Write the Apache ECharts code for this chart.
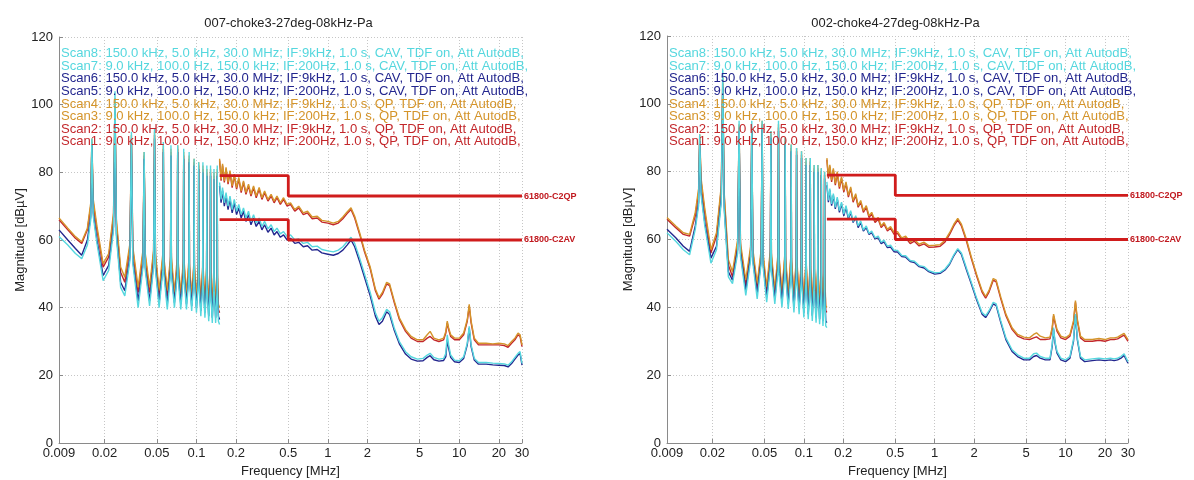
<!DOCTYPE html>
<html><head><meta charset="utf-8">
<script src="https://cdn.jsdelivr.net/npm/echarts@6/dist/echarts.min.js"></script>
<style>html,body{margin:0;padding:0;background:#fff}#c{width:1194px;height:480px}</style>
</head><body><div id="c"></div>
<script>
// ---------- data ----------
const plotTitles = ['007-choke3-27deg-08kHz-Pa', '002-choke4-27deg-08kHz-Pa'];
const xTicks = [0.009, 0.02, 0.05, 0.1, 0.2, 0.5, 1, 2, 5, 10, 20, 30];
const legendLines = [
  ['Scan8', ': 150.0 kHz, 5.0 kHz, 30.0 MHz; IF:9kHz, 1.0 s, CAV, TDF on, Att AutodB,'],
  ['Scan7', ': 9.0 kHz, 100.0 Hz, 150.0 kHz; IF:200Hz, 1.0 s, CAV, TDF on, Att AutodB,'],
  ['Scan6', ': 150.0 kHz, 5.0 kHz, 30.0 MHz; IF:9kHz, 1.0 s, CAV, TDF on, Att AutodB,'],
  ['Scan5', ': 9.0 kHz, 100.0 Hz, 150.0 kHz; IF:200Hz, 1.0 s, CAV, TDF on, Att AutodB,'],
  ['Scan4', ': 150.0 kHz, 5.0 kHz, 30.0 MHz; IF:9kHz, 1.0 s, QP, TDF on, Att AutodB,'],
  ['Scan3', ': 9.0 kHz, 100.0 Hz, 150.0 kHz; IF:200Hz, 1.0 s, QP, TDF on, Att AutodB,'],
  ['Scan2', ': 150.0 kHz, 5.0 kHz, 30.0 MHz; IF:9kHz, 1.0 s, QP, TDF on, Att AutodB,'],
  ['Scan1', ': 9.0 kHz, 100.0 Hz, 150.0 kHz; IF:200Hz, 1.0 s, QP, TDF on, Att AutodB,']
];

// 9 kHz - 150 kHz scans (Scan1/3/5/7), frequency in MHz
const lowFreq = [0.009, 0.0105, 0.012, 0.0134, 0.0148, 0.0157, 0.016, 0.0164, 0.0175, 0.0195,
  0.0215, 0.0234, 0.024, 0.0246, 0.0265, 0.0285, 0.0312, 0.032, 0.0328, 0.036,
  0.0392, 0.040, 0.0408, 0.044, 0.0472, 0.048, 0.0488, 0.052,
  0.0555, 0.056, 0.0565, 0.060,
  0.0635, 0.064, 0.0645, 0.068,
  0.0715, 0.072, 0.0725, 0.076,
  0.0795, 0.080, 0.0805, 0.084,
  0.0875, 0.088, 0.0885, 0.092,
  0.0955, 0.096, 0.0965, 0.100,
  0.1035, 0.104, 0.1045, 0.108,
  0.1115, 0.112, 0.1125, 0.116,
  0.1195, 0.120, 0.1205, 0.124,
  0.1275, 0.128, 0.1285, 0.132,
  0.1355, 0.136, 0.1365, 0.140,
  0.1435, 0.144, 0.1445, 0.147, 0.1499];
// 150 kHz - 30 MHz scans (Scan2/4/6/8)
const highFreq = [0.15, 0.154, 0.158, 0.163, 0.168, 0.174, 0.18, 0.187, 0.194, 0.202,
  0.21, 0.219, 0.228, 0.238, 0.249, 0.26, 0.272, 0.285, 0.3, 0.315,
  0.33, 0.35, 0.37, 0.39, 0.41, 0.435, 0.46, 0.49, 0.52, 0.56,
  0.6, 0.65, 0.7, 0.76, 0.83, 0.9, 1.0, 1.1, 1.2, 1.3,
  1.4, 1.5, 1.6, 1.75, 1.9, 2.1, 2.3, 2.45, 2.6, 2.8,
  2.95, 3.2, 3.5, 3.9, 4.3, 4.8, 5.3, 5.7, 6.0, 6.4,
  7.0, 7.6, 7.9, 8.1, 8.3, 8.6, 9.2, 10.0, 10.8, 11.5,
  11.9, 12.3, 13.0, 14.0, 16.0, 18.0, 20.0, 22.0, 23.5, 25.0,
  26.5, 28.0, 29.0, 30.0];

// ---- left plot (007-choke3) ----
const L_scan1 = [66, 63, 60.5, 59, 63, 70, 89, 71, 63, 52, 55, 67, 100, 65, 50.5, 47.5, 58, 90, 57, 44.5, 56, 85, 55, 44.5, 56, 91, 55, 43.5,
  54.5, 87, 54, 43.5, 54, 86, 53.5, 43, 53.5, 87, 53, 42.5, 53, 85, 52.5, 42.5, 52.5, 84, 52, 42, 52, 83, 51.5, 41.5,
  51.5, 82, 51, 40.5, 51, 81, 50.5, 40, 50.5, 80, 50, 39.5, 50, 80, 49.5, 39.5, 49.5, 79, 49, 39, 49.5, 80, 49, 39.5, 38.5];
const L_scan3 = [66.5, 63.5, 61, 59.5, 63.5, 71, 90, 72, 64, 53, 56, 68, 102, 66, 52, 49, 59, 91, 58, 46, 57, 86, 56, 46, 57, 92, 56, 45,
  56, 88, 55, 45, 55, 87, 55, 44.5, 55, 88, 54, 44, 54, 86, 54, 44, 54, 85, 53, 43.5, 53, 84, 53, 43,
  53, 83, 52, 42, 52, 82, 52, 41.5, 52, 81, 51, 41, 51, 81, 51, 41, 51, 80, 50, 40.5, 51, 81, 50, 41, 40];
const L_scan5 = [63, 60, 57.5, 55.5, 60, 67, 88, 68, 60, 49.5, 52.5, 64, 98, 62, 47.5, 45, 55, 89, 54, 42, 53, 84, 52, 42, 53, 90, 52, 41.5,
  52, 86, 51.5, 41, 51.5, 85, 51, 41.5, 51, 86, 50.5, 41, 50.5, 84, 50, 41, 50, 83, 49.5, 40.5, 49.5, 82, 49, 40,
  49, 81, 48.5, 39, 48.5, 80, 48, 38.5, 48, 79, 47.5, 37.5, 47.5, 79, 47, 37, 47, 78, 46.5, 37, 46.5, 79, 46, 37.5, 36.5];
const L_scan7 = [61, 58.5, 56, 54.5, 58.5, 66, 90, 67, 59, 48, 51, 63, 104, 61, 46, 43.5, 54, 92, 53, 40, 52, 86, 51, 40.5, 52, 93, 51, 40,
  51, 89, 50, 39.5, 50, 88, 50, 40, 50, 88, 49, 39.5, 49, 87, 49, 39.5, 49, 86, 48, 39, 48, 84, 48, 38.5,
  48, 83, 47, 37.5, 47, 83, 47, 37, 46, 82, 46, 36, 46, 82, 45, 35.5, 45, 81, 45, 35.5, 45, 82, 45, 36, 35];
const L_scan2 = [83.5, 77.5, 82, 77, 81, 76.5, 80, 75.5, 79, 75, 78, 74, 77, 73.5, 76, 73, 75.5, 72.5, 75, 72, 74, 71.5, 73, 71, 72.5, 70.5, 72, 70, 70.5, 68.5, 69.5, 67.5, 68, 66.3, 66.5, 65.3, 65, 64.5, 65, 66.3, 67.8, 69, 66.5, 61.5, 56.5, 51.5, 45, 42.5, 44, 47, 46.5, 41.5, 36.5, 33, 31, 30, 30, 31, 31.5, 30.5, 30, 30.5, 32.5, 35.5, 33.5, 31.5, 30.5, 30.5, 32, 36, 40.5, 35.5, 30.5, 29, 29, 29, 29, 28.8, 28.3, 29.5, 30.5, 32, 31.5, 28.5];
const L_scan4 = [84, 78, 82.5, 77.5, 81.5, 77, 80.5, 76, 79.5, 75.5, 78.5, 74.5, 77.5, 74, 76.5, 73.5, 76, 73, 75.5, 72.5, 74.5, 72, 73.5, 71.5, 73, 71, 72.5, 70.5, 71, 69, 70, 68, 68.5, 66.8, 67, 65.8, 65.5, 65, 65.5, 66.8, 68.3, 69.5, 67, 62, 57, 52, 45.5, 43, 44.5, 47.5, 47, 42, 37, 33.5, 31.5, 30.5, 30.5, 32, 33, 31, 30.5, 31, 33, 36, 34, 32, 31, 31, 32.5, 36.5, 41, 36, 31, 29.5, 29.5, 29.3, 29.5, 29.3, 28.8, 30, 31, 32.5, 32, 29];
const L_scan6 = [76, 71, 74.5, 70, 73, 69, 72, 68, 71, 67.5, 69.5, 66.5, 68.5, 65.5, 67.5, 64.5, 66.5, 64, 65.5, 63, 64.5, 62.3, 63.5, 61.5, 62.5, 60.8, 61.5, 60, 60.5, 59, 59.3, 58, 58.3, 57, 57.2, 56.2, 55.8, 55.5, 56, 57, 58.5, 60, 58, 53.5, 49, 43.5, 37.5, 35, 36, 38.8, 38, 33.3, 29.3, 26.3, 24.8, 24.2, 24.3, 25.3, 25.8, 24.6, 24.2, 24.4, 25.5, 30.5, 28, 25.3, 24, 23.8, 25, 29, 34, 28.5, 24.5, 23.3, 23.3, 23.1, 23, 22.9, 22.5, 23.5, 24.8, 26, 26.5, 23];
const L_scan8 = [77, 72, 75.5, 71, 74, 70, 73, 69, 72, 68.5, 70.5, 67.5, 69.5, 66.5, 68.5, 65.5, 67.5, 65, 66.5, 64, 65.5, 63.3, 64.5, 62.5, 63.5, 61.8, 62.5, 61, 61.5, 60, 60.3, 59, 59.3, 58, 58.2, 57.2, 56.8, 56.5, 57, 58, 59.5, 60.8, 59, 54.5, 50, 44.5, 38.5, 36, 37, 39.5, 38.8, 34, 30, 27, 25.5, 24.8, 25, 26, 26.5, 25.3, 24.8, 25, 26.5, 32, 29, 26, 24.5, 24.3, 25.5, 29.5, 34.5, 29, 25, 23.8, 23.8, 23.6, 23.5, 23.4, 23, 24, 25.3, 26.5, 27, 23.5];

// ---- right plot (002-choke4) ----
const R_scan1 = [66, 63.5, 61.5, 61, 67, 74, 90, 77, 68, 56, 61, 75, 106, 73, 52.5, 49, 59, 93, 58, 46.5, 57, 92, 56, 45.5, 56, 94, 55, 44.5,
  56, 91, 55, 43.5, 55, 93, 54.5, 43, 54.5, 89, 54, 42.5, 54, 87, 53.5, 42, 53.5, 86, 53, 41.5, 53, 85, 52, 40.5,
  52, 83, 51.5, 40, 51.5, 83, 51, 39.5, 51, 81, 50.5, 39, 50.5, 81, 50, 39, 50, 80, 49.5, 38.5, 49.5, 79, 49, 39, 38.5];
const R_scan3 = [66.5, 64, 62, 61.5, 68, 75, 91, 78, 69, 57, 62, 76, 108, 74, 54, 50.5, 60, 94, 59, 48, 58, 93, 57, 47, 57, 95, 56, 46,
  57, 92, 56, 45, 56, 94, 55.5, 44.5, 55.5, 90, 55, 44, 55, 88, 54.5, 43.5, 54.5, 87, 54, 43, 54, 86, 53, 42,
  53, 84, 52.5, 41.5, 52.5, 84, 52, 41, 52, 82, 51.5, 40.5, 51.5, 82, 51, 40.5, 51, 81, 50.5, 40, 50.5, 80, 50, 40.5, 40];
const R_scan5 = [63, 60.5, 58, 56.5, 64, 71, 89, 74, 65, 54.5, 58, 72, 105, 70, 50.5, 48, 57, 92, 56, 45, 55, 92, 54, 44, 54, 93, 53, 43,
  53, 90, 52.5, 42.5, 52.5, 92, 52, 41.5, 52, 88, 51, 41, 51, 86, 50.5, 40, 50.5, 85, 50, 39.5, 50, 84, 49, 38.5,
  49, 82, 48.5, 38, 48.5, 82, 48, 37.5, 48, 80, 47, 37, 47, 80, 46.5, 36.5, 46.5, 79, 46, 36, 46, 78, 45.5, 36, 35.5];
const R_scan7 = [62, 59.5, 57, 55.5, 63, 70, 91, 73, 64, 53, 57, 71, 110, 69, 49, 47, 56, 95, 55, 43.5, 54, 95, 53, 42.5, 53, 95, 52, 41.5,
  52, 92, 51, 41, 51, 95, 50, 40, 50, 90, 49.5, 39.5, 49.5, 88, 49, 38.5, 49, 87, 48, 38, 48, 86, 47, 37,
  47, 84, 46.5, 36.5, 46.5, 84, 46, 36, 46, 82, 45, 35.5, 45, 82, 44.5, 35, 44.5, 81, 44, 34.5, 44, 80, 43.5, 34.5, 34];
const R_scan2 = [83.5, 78, 81.5, 77, 80.5, 76, 79.5, 75, 78, 74, 76.5, 72.5, 75, 71, 73, 69.5, 71, 68, 69.5, 66.5, 67.5, 65, 66, 63.5, 64.5, 62.5, 63.3, 61.5, 61.8, 60, 60.5, 58.8, 59.5, 58.1, 58.7, 57.7, 57.8, 58, 59.3, 61.5, 64, 65.7, 64, 59.5, 54.5, 49, 44.5, 42.7, 44.5, 48, 47.5, 42.5, 37.5, 33.5, 31.5, 30.7, 30.5, 31, 31.3, 30.5, 30.5, 30.7, 33.5, 37.5, 35.5, 33, 31, 30.5, 31.5, 35.5, 41.5, 36, 31, 30, 30, 30.3, 30, 30.5, 30.5, 30.7, 31.3, 31.8, 32, 30];
const R_scan4 = [84, 78.5, 82, 77.5, 81, 76.5, 80, 75.5, 78.5, 74.5, 77, 73, 75.5, 71.5, 73.5, 70, 71.5, 68.5, 70, 67, 68, 65.5, 66.5, 64, 65, 63, 63.8, 62, 62.3, 60.5, 61, 59.3, 60, 58.6, 59.2, 58.2, 58.3, 58.5, 59.8, 62, 64.5, 66.2, 64.5, 60, 55, 49.5, 45, 43.2, 45, 48.5, 48, 43, 38, 34, 32, 31.2, 31, 32, 32.5, 31.5, 31, 31.2, 34, 38, 36, 33.5, 31.5, 31, 32, 36, 42, 36.5, 31.5, 30.5, 30.5, 30.8, 30.5, 31, 31, 31.2, 31.8, 32.3, 32.5, 30.5];
const R_scan6 = [76, 71, 74.5, 70, 73, 69, 72, 68, 70.5, 67, 69.5, 66, 68, 65, 66.5, 63.5, 65, 62.5, 63.5, 61.5, 62, 60.2, 60.5, 58.8, 59.3, 57.6, 57.8, 56.4, 56.3, 55, 54.8, 53.5, 53.2, 52, 51.6, 50.5, 49.8, 50, 51, 52.7, 55.2, 57, 55.6, 51, 47, 42, 38, 37, 38.6, 41, 40.5, 35.5, 30.5, 27, 25.5, 24.5, 24.5, 25.5, 25.8, 25, 24.5, 24.5, 28.5, 33.5, 29.5, 26.5, 24.5, 24, 25, 30, 37.5, 30.5, 25, 24, 24.3, 24.5, 24.3, 24.5, 24.3, 24.5, 25, 25.8, 26, 23.5];
const R_scan8 = [77, 71.5, 75, 70.5, 73.5, 69.5, 72.5, 68.5, 71, 67.5, 70, 66.5, 68.5, 65.3, 67, 64, 65.5, 62.8, 64, 61.8, 62.5, 60.5, 61, 59.2, 59.8, 58, 58.3, 56.8, 56.8, 55.3, 55.2, 53.8, 53.6, 52.3, 52, 50.8, 50.2, 50.3, 51.3, 53, 55.5, 57.3, 56, 51.5, 47.5, 42.5, 38.5, 37.5, 39, 41.5, 41, 36, 31, 27.5, 26, 25, 25, 26.3, 26.5, 25.5, 25, 25, 29, 34, 30, 27, 25, 24.5, 25.5, 30.5, 38, 31, 25.5, 24.5, 24.8, 25, 24.8, 25, 24.8, 25, 25.5, 26.3, 26.5, 24];

// limit lines (IEC 61800-3 C2)
const limitFreq = [0.15, 0.5, 0.5, 30];
const qpLimit = [79, 79, 73, 73];
const avLimit = [66, 66, 60, 60];

// ---------- styling ----------
const FONT = '"Liberation Sans", Arial, Helvetica, sans-serif';
const C = { red: '#c3272b', gold: '#d4942a', navy: '#23268e', cyan: '#55d7de', limit: '#d01c1c' };
const scanColor = { Scan1: C.red, Scan2: C.red, Scan3: C.gold, Scan4: C.gold, Scan5: C.navy, Scan6: C.navy, Scan7: C.cyan, Scan8: C.cyan };
const grids = [
  { left: 59, top: 37, width: 463, height: 406, containLabel: false, outerBoundsMode: 'none' },
  { left: 667, top: 36, width: 461, height: 407, containLabel: false, outerBoundsMode: 'none' }
];

function pairs(fr, vals) { return fr.map((f, i) => [f, vals[i]]); }
function fmtTick(v) {
  let best = xTicks[0];
  xTicks.forEach(t => { if (Math.abs(Math.log10(t) - Math.log10(v)) < Math.abs(Math.log10(best) - Math.log10(v))) best = t; });
  return String(best);
}

const plots = [
  { low: [L_scan1, L_scan3, L_scan5, L_scan7], high: [L_scan2, L_scan4, L_scan6, L_scan8] },
  { low: [R_scan1, R_scan3, R_scan5, R_scan7], high: [R_scan2, R_scan4, R_scan6, R_scan8] }
];

const xAxes = [], yAxes = [], series = [], graphics = [];
plots.forEach((p, gi) => {
  xAxes.push({
    type: 'log', logBase: 10, gridIndex: gi, min: 0.009, max: 30,
    name: 'Frequency [MHz]', nameLocation: 'middle', nameGap: 18,
    nameTextStyle: { fontFamily: FONT, fontSize: 13, color: '#222' },
    axisLine: { show: true, onZero: false, lineStyle: { color: '#8a8a8a', width: 1 } },
    axisTick: { show: true, inside: true, length: 4, customValues: xTicks, lineStyle: { color: '#8a8a8a' } },
    axisLabel: { customValues: xTicks, formatter: fmtTick, fontFamily: FONT, fontSize: 13, color: '#222', margin: 4, hideOverlap: false },
    splitLine: { show: true, lineStyle: { color: '#c6c6c6', type: [1, 2], width: 1 } }
  });
  yAxes.push({
    type: 'value', gridIndex: gi, min: 0, max: 120, interval: 20,
    name: 'Magnitude [dBµV]', nameLocation: 'middle', nameGap: 31, nameRotate: 90,
    nameTextStyle: { fontFamily: FONT, fontSize: 13, color: '#222' },
    axisLine: { show: true, lineStyle: { color: '#8a8a8a', width: 1 } },
    axisTick: { show: true, inside: true, length: 4, lineStyle: { color: '#8a8a8a' } },
    axisLabel: { fontFamily: FONT, fontSize: 13, color: '#222', margin: 6 },
    splitLine: { show: true, lineStyle: { color: '#c6c6c6', type: [1, 2], width: 1 } }
  });
  const order = [
    ['Scan1', lowFreq, p.low[0]], ['Scan2', highFreq, p.high[0]],
    ['Scan3', lowFreq, p.low[1]], ['Scan4', highFreq, p.high[1]],
    ['Scan5', lowFreq, p.low[2]], ['Scan6', highFreq, p.high[2]],
    ['Scan7', lowFreq, p.low[3]], ['Scan8', highFreq, p.high[3]]
  ];
  order.forEach(([nm, fr, vals]) => {
    series.push({
      type: 'line', name: nm, xAxisIndex: gi, yAxisIndex: gi,
      data: pairs(fr, vals), showSymbol: false, symbol: 'none', clip: true,
      lineStyle: { color: scanColor[nm], width: 1.4 }, itemStyle: { color: scanColor[nm] },
      emphasis: { disabled: true }, z: 2
    });
  });
  [['61800-C2QP', qpLimit], ['61800-C2AV', avLimit]].forEach(([nm, vals]) => {
    series.push({
      type: 'line', name: nm, xAxisIndex: gi, yAxisIndex: gi,
      data: pairs(limitFreq, vals), showSymbol: false, symbol: 'none', clip: false,
      lineStyle: { color: C.limit, width: 2.8 }, itemStyle: { color: C.limit },
      emphasis: { disabled: true }, z: 3,
      endLabel: { show: true, formatter: nm, color: '#c0181e', fontFamily: FONT, fontWeight: 'bold', fontSize: 9, distance: 2 }
    });
  });
  const g = grids[gi];
  graphics.push({
    type: 'text', x: g.left + g.width / 2 - 2, y: 23,
    style: { text: plotTitles[gi], font: '12.9px ' + FONT, fill: '#222', textAlign: 'center', textVerticalAlign: 'middle' }
  });
  legendLines.forEach((ln, i) => {
    graphics.push({
      type: 'text', x: g.left + 2, y: 53.5 + i * 12.6, z: 10,
      style: { text: ln[0] + ln[1], font: '13.1px ' + FONT, fill: scanColor[ln[0]], textAlign: 'left', textVerticalAlign: 'middle' }
    });
  });
});

const chart = echarts.init(document.getElementById('c'), null, { renderer: 'canvas' });
chart.setOption({
  animation: false,
  backgroundColor: '#ffffff',
  grid: grids,
  xAxis: xAxes,
  yAxis: yAxes,
  series: series,
  graphic: graphics
});
</script>
</body></html>
